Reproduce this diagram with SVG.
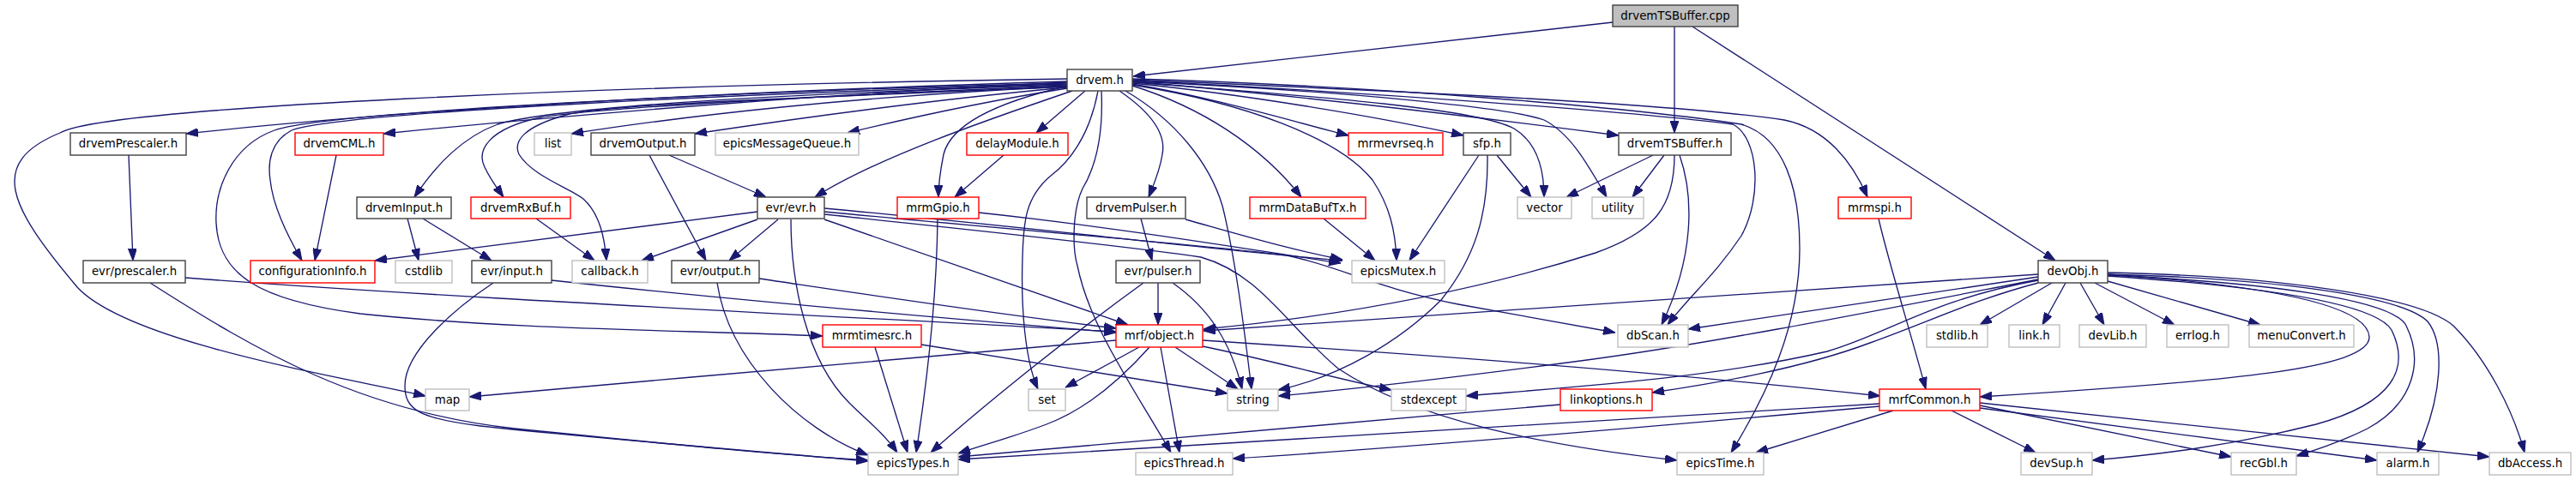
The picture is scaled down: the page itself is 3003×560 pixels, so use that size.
<svg xmlns="http://www.w3.org/2000/svg" width="3003" height="560" viewBox="0 0 3003 560">
<defs>
<marker id="a" viewBox="0 0 14 10" refX="14" refY="5" markerWidth="14" markerHeight="10" markerUnits="userSpaceOnUse" orient="auto">
<path d="M0,0 L14,5 L0,10 Z" fill="#191970" stroke="#191970" stroke-width="1"/>
</marker>
<style>
.n rect{fill:#fff;stroke:#404040;stroke-width:1.4}
.g rect{stroke:#bfbfbf}
.r rect{stroke:#ff0000}
.root rect{fill:#bfbfbf}
text{font-family:"DejaVu Sans",sans-serif;font-size:13.33px;text-anchor:middle;fill:#000}
.e path{fill:none;stroke:#191970;stroke-width:1.33;marker-end:url(#a)}
</style>
</defs>
<rect width="3003" height="560" fill="#fff"/>
<g id="edges" class="e">
<path d="M1880,26 L1321,89"/>
<path d="M1952,31 L1952,155"/>
<path d="M1973,31 L2396,304"/>
<path d="M1244,95 C900,105 500,125 217,156"/>
<path d="M1244,96 C1000,108 700,130 447,156"/>
<path d="M1244,92 C700,100 120,125 70,155 C-15,190 10,240 90,335 C150,400 400,440 496,462"/>
<path d="M1244,97 C900,105 380,130 320,152 C270,170 250,220 252,260 C255,320 300,350 420,366 C600,385 800,385 959,392"/>
<path d="M1244,98 C900,108 400,130 340,152 C315,165 312,190 315,210 C318,240 335,275 352,304"/>
<path d="M1244,99 C900,110 650,125 580,145 C540,160 510,190 483,230"/>
<path d="M1244,100 C1000,110 700,125 630,137 C570,150 555,175 565,195 C572,210 580,220 587,230"/>
<path d="M1244,101 C1000,112 720,120 660,134 C610,148 598,165 605,180 C620,205 665,220 680,232 C700,250 705,280 707,304"/>
<path d="M1244,101 C1000,112 800,135 666,156"/>
<path d="M1244,102 C1100,115 950,135 810,156"/>
<path d="M1244,103 C1150,118 1050,140 988,155"/>
<path d="M1250,106 C1150,140 1020,185 950,230"/>
<path d="M1265,106 L1208,155"/>
<path d="M1246,100 C1180,115 1110,140 1100,180 C1096,200 1094,215 1094,230"/>
<path d="M1170,181 L1113,230"/>
<path d="M1280,106 C1270,160 1245,190 1225,205 C1195,230 1193,260 1192,300 C1190,360 1195,420 1210,454"/>
<path d="M1284,106 C1286,150 1280,190 1262,220 C1250,245 1250,290 1256,310 C1270,380 1320,450 1365,528"/>
<path d="M1305,106 C1340,130 1360,155 1355,180 C1352,200 1345,215 1339,230"/>
<path d="M1312,106 C1370,140 1410,190 1425,240 C1440,300 1450,380 1459,454"/>
<path d="M1320,100 C1400,125 1470,170 1517,230"/>
<path d="M1320,98 C1420,115 1500,140 1572,158"/>
<path d="M1320,97 C1450,110 1600,135 1706,158"/>
<path d="M1320,96 C1500,110 1720,125 1765,150 C1790,165 1800,195 1800,230"/>
<path d="M1320,95 C1550,105 1760,125 1800,140 C1830,155 1850,190 1873,230"/>
<path d="M1320,95 C1550,115 1750,140 1887,158"/>
<path d="M1320,93 C1600,105 1950,120 2080,140 C2130,150 2160,190 2177,230"/>
<path d="M1320,92 C1600,100 1900,125 2030,145 C2080,160 2098,220 2098,290 C2098,380 2060,460 2018,528"/>
<path d="M1320,94 C1600,108 1900,130 2020,145 C2050,160 2055,230 2030,275 C2000,320 1970,345 1944,379"/>
<path d="M1320,99 C1450,120 1560,160 1600,210 C1620,240 1627,270 1628,304"/>
<path d="M150,181 L155,304"/>
<path d="M392,181 L367,304"/>
<path d="M475,255 L488,304"/>
<path d="M493,255 L573,304"/>
<path d="M625,255 L693,304"/>
<path d="M780,181 L893,230"/>
<path d="M757,181 L823,304"/>
<path d="M883,247 L437,304"/>
<path d="M883,256 L748,304"/>
<path d="M907,256 L850,304"/>
<path d="M922,256 C922,330 940,420 990,470 C1010,490 1030,505 1046,528"/>
<path d="M961,256 L1315,379"/>
<path d="M961,243 C1200,265 1400,290 1565,304"/>
<path d="M961,247 C1200,270 1400,285 1500,298 C1560,310 1600,335 1700,355 C1780,370 1840,380 1883,388"/>
<path d="M961,250 C1100,265 1300,285 1400,300 C1470,320 1500,380 1560,430 C1650,490 1800,520 1955,537"/>
<path d="M1141,248 C1300,265 1450,290 1563,307"/>
<path d="M1382,256 C1450,275 1500,290 1565,303"/>
<path d="M1330,255 L1343,304"/>
<path d="M1093,255 C1092,350 1080,450 1068,528"/>
<path d="M1543,255 L1603,304"/>
<path d="M1745,181 L1785,230"/>
<path d="M1724,181 L1643,304"/>
<path d="M1734,181 C1735,250 1720,300 1680,350 C1630,400 1560,440 1490,455"/>
<path d="M1927,181 L1826,230"/>
<path d="M1940,181 L1903,230"/>
<path d="M1958,181 C1975,230 1975,300 1937,379"/>
<path d="M1952,181 C1952,240 1930,270 1860,295 C1750,330 1600,365 1403,384"/>
<path d="M2190,255 C2200,300 2225,380 2245,454"/>
<path d="M643,327 C900,355 1150,375 1301,388"/>
<path d="M216,324 C500,346 900,365 1301,387"/>
<path d="M885,325 C1000,342 1150,365 1301,383"/>
<path d="M575,330 C530,360 472,410 472,450 C472,478 488,488 560,497 C700,512 900,528 1012,538"/>
<path d="M175,330 C300,410 420,480 600,500 C800,520 900,530 1012,537"/>
<path d="M836,330 C850,420 930,500 1012,531"/>
<path d="M1350,330 L1350,379"/>
<path d="M1333,330 C1250,390 1150,470 1085,528"/>
<path d="M1367,330 C1410,360 1435,400 1448,454"/>
<path d="M1020,405 L1058,528"/>
<path d="M1074,402 L1431,459"/>
<path d="M1328,405 L1242,452"/>
<path d="M1340,405 C1300,450 1260,480 1220,495 C1180,510 1150,518 1117,529"/>
<path d="M1353,405 L1375,528"/>
<path d="M1370,405 L1443,454"/>
<path d="M1402,404 C1480,420 1550,440 1622,455"/>
<path d="M1402,397 C1600,410 1900,430 2192,462"/>
<path d="M1301,397 C1100,415 800,440 547,463"/>
<path d="M2191,471 C1800,495 1400,520 1117,536"/>
<path d="M1819,472 C1600,490 1400,510 1117,533"/>
<path d="M2191,474 C1900,500 1600,525 1437,535"/>
<path d="M2207,479 L2047,528"/>
<path d="M2275,479 L2373,528"/>
<path d="M2308,473 L2601,533"/>
<path d="M2308,476 L2771,537"/>
<path d="M2308,470 L2902,533"/>
<path d="M2376,320 L1403,386"/>
<path d="M2376,323 L1968,384"/>
<path d="M2376,326 C2200,360 2000,400 1850,420 C1700,440 1600,452 1490,462"/>
<path d="M2376,327 C2250,350 2200,390 2130,410 C2000,440 1850,450 1709,462"/>
<path d="M2376,330 C2300,350 2250,375 2180,400 C2100,430 2000,447 1926,458"/>
<path d="M2392,330 L2308,379"/>
<path d="M2408,330 L2381,379"/>
<path d="M2425,330 L2453,379"/>
<path d="M2442,330 L2535,379"/>
<path d="M2457,328 L2635,379"/>
<path d="M2457,320 C2600,330 2760,350 2762,393 C2763,430 2600,445 2308,463"/>
<path d="M2457,322 C2650,335 2770,355 2788,385 C2810,430 2790,470 2700,495 C2600,520 2520,530 2439,537"/>
<path d="M2457,321 C2650,330 2790,350 2805,380 C2825,420 2815,470 2760,500 C2730,515 2700,525 2677,532"/>
<path d="M2457,320 C2650,325 2800,345 2830,375 C2850,400 2848,460 2818,528"/>
<path d="M2457,318 C2650,322 2820,345 2860,380 C2900,420 2930,480 2943,528"/>
</g>
<g id="n_root" class="n root"><rect x="1880" y="6" width="146" height="25"/><text x="1953" y="23">drvemTSBuffer.cpp</text></g>
<g id="n_drvem" class="n"><rect x="1244" y="81" width="76" height="25"/><text x="1282" y="98">drvem.h</text></g>
<g id="n_drvemPrescaler" class="n"><rect x="82" y="155" width="135" height="26"/><text x="149.5" y="172">drvemPrescaler.h</text></g>
<g id="n_drvemCML" class="n r"><rect x="344" y="155" width="103" height="26"/><text x="395.5" y="172">drvemCML.h</text></g>
<g id="n_list" class="n g"><rect x="623" y="155" width="43" height="26"/><text x="644.5" y="172">list</text></g>
<g id="n_drvemOutput" class="n"><rect x="689" y="155" width="121" height="26"/><text x="749.5" y="172">drvemOutput.h</text></g>
<g id="n_epicsMessageQueue" class="n g"><rect x="834" y="155" width="167" height="26"/><text x="917.5" y="172">epicsMessageQueue.h</text></g>
<g id="n_delayModule" class="n r"><rect x="1127" y="155" width="118" height="26"/><text x="1186" y="172">delayModule.h</text></g>
<g id="n_mrmevrseq" class="n r"><rect x="1572" y="155" width="110" height="26"/><text x="1627" y="172">mrmevrseq.h</text></g>
<g id="n_sfp" class="n"><rect x="1706" y="155" width="55" height="26"/><text x="1733.5" y="172">sfp.h</text></g>
<g id="n_drvemTSBuffer" class="n"><rect x="1887" y="155" width="131" height="26"/><text x="1952.5" y="172">drvemTSBuffer.h</text></g>
<g id="n_drvemInput" class="n"><rect x="416" y="230" width="110" height="25"/><text x="471" y="247">drvemInput.h</text></g>
<g id="n_drvemRxBuf" class="n r"><rect x="549" y="230" width="116" height="25"/><text x="607" y="247">drvemRxBuf.h</text></g>
<g id="n_evr" class="n"><rect x="883" y="230" width="78" height="25"/><text x="922" y="247">evr/evr.h</text></g>
<g id="n_mrmGpio" class="n r"><rect x="1046" y="230" width="95" height="25"/><text x="1093.5" y="247">mrmGpio.h</text></g>
<g id="n_drvemPulser" class="n"><rect x="1267" y="230" width="115" height="25"/><text x="1324.5" y="247">drvemPulser.h</text></g>
<g id="n_mrmDataBufTx" class="n r"><rect x="1457" y="230" width="135" height="25"/><text x="1524.5" y="247">mrmDataBufTx.h</text></g>
<g id="n_vector" class="n g"><rect x="1769" y="230" width="63" height="25"/><text x="1800.5" y="247">vector</text></g>
<g id="n_utility" class="n g"><rect x="1856" y="230" width="60" height="25"/><text x="1886" y="247">utility</text></g>
<g id="n_mrmspi" class="n r"><rect x="2143" y="230" width="85" height="25"/><text x="2185.5" y="247">mrmspi.h</text></g>
<g id="n_evrprescaler" class="n"><rect x="97" y="304" width="119" height="26"/><text x="156.5" y="321">evr/prescaler.h</text></g>
<g id="n_configurationInfo" class="n r"><rect x="292" y="304" width="145" height="26"/><text x="364.5" y="321">configurationInfo.h</text></g>
<g id="n_cstdlib" class="n g"><rect x="461" y="304" width="66" height="26"/><text x="494" y="321">cstdlib</text></g>
<g id="n_evrinput" class="n"><rect x="550" y="304" width="93" height="26"/><text x="596.5" y="321">evr/input.h</text></g>
<g id="n_callback" class="n g"><rect x="667" y="304" width="88" height="26"/><text x="711" y="321">callback.h</text></g>
<g id="n_evroutput" class="n"><rect x="783" y="304" width="102" height="26"/><text x="834" y="321">evr/output.h</text></g>
<g id="n_evrpulser" class="n"><rect x="1301" y="304" width="98" height="26"/><text x="1350" y="321">evr/pulser.h</text></g>
<g id="n_epicsMutex" class="n g"><rect x="1576" y="304" width="108" height="26"/><text x="1630" y="321">epicsMutex.h</text></g>
<g id="n_devObj" class="n"><rect x="2376" y="304" width="81" height="26"/><text x="2416.5" y="321">devObj.h</text></g>
<g id="n_mrmtimesrc" class="n r"><rect x="959" y="379" width="115" height="26"/><text x="1016.5" y="396">mrmtimesrc.h</text></g>
<g id="n_mrfobject" class="n r"><rect x="1301" y="379" width="101" height="26"/><text x="1351.5" y="396">mrf/object.h</text></g>
<g id="n_dbScan" class="n g"><rect x="1886" y="379" width="82" height="26"/><text x="1927" y="396">dbScan.h</text></g>
<g id="n_stdlib" class="n g"><rect x="2246" y="379" width="71" height="26"/><text x="2281.5" y="396">stdlib.h</text></g>
<g id="n_link" class="n g"><rect x="2342" y="379" width="59" height="26"/><text x="2371.5" y="396">link.h</text></g>
<g id="n_devLib" class="n g"><rect x="2424" y="379" width="78" height="26"/><text x="2463" y="396">devLib.h</text></g>
<g id="n_errlog" class="n g"><rect x="2526" y="379" width="72" height="26"/><text x="2562" y="396">errlog.h</text></g>
<g id="n_menuConvert" class="n g"><rect x="2622" y="379" width="122" height="26"/><text x="2683" y="396">menuConvert.h</text></g>
<g id="n_map" class="n g"><rect x="496" y="454" width="51" height="25"/><text x="521.5" y="471">map</text></g>
<g id="n_set" class="n g"><rect x="1199" y="454" width="43" height="25"/><text x="1220.5" y="471">set</text></g>
<g id="n_string" class="n g"><rect x="1431" y="454" width="59" height="25"/><text x="1460.5" y="471">string</text></g>
<g id="n_stdexcept" class="n g"><rect x="1622" y="454" width="87" height="25"/><text x="1665.5" y="471">stdexcept</text></g>
<g id="n_linkoptions" class="n r"><rect x="1819" y="454" width="107" height="25"/><text x="1872.5" y="471">linkoptions.h</text></g>
<g id="n_mrfCommon" class="n r"><rect x="2191" y="454" width="117" height="25"/><text x="2249.5" y="471">mrfCommon.h</text></g>
<g id="n_epicsTypes" class="n g"><rect x="1012" y="528" width="105" height="26"/><text x="1064.5" y="545">epicsTypes.h</text></g>
<g id="n_epicsThread" class="n g"><rect x="1324" y="528" width="113" height="26"/><text x="1380.5" y="545">epicsThread.h</text></g>
<g id="n_epicsTime" class="n g"><rect x="1955" y="528" width="101" height="26"/><text x="2005.5" y="545">epicsTime.h</text></g>
<g id="n_devSup" class="n g"><rect x="2356" y="528" width="83" height="26"/><text x="2397.5" y="545">devSup.h</text></g>
<g id="n_recGbl" class="n g"><rect x="2601" y="528" width="76" height="26"/><text x="2639" y="545">recGbl.h</text></g>
<g id="n_alarm" class="n g"><rect x="2771" y="528" width="72" height="26"/><text x="2807" y="545">alarm.h</text></g>
<g id="n_dbAccess" class="n g"><rect x="2902" y="528" width="95" height="26"/><text x="2949.5" y="545">dbAccess.h</text></g>
</svg>
